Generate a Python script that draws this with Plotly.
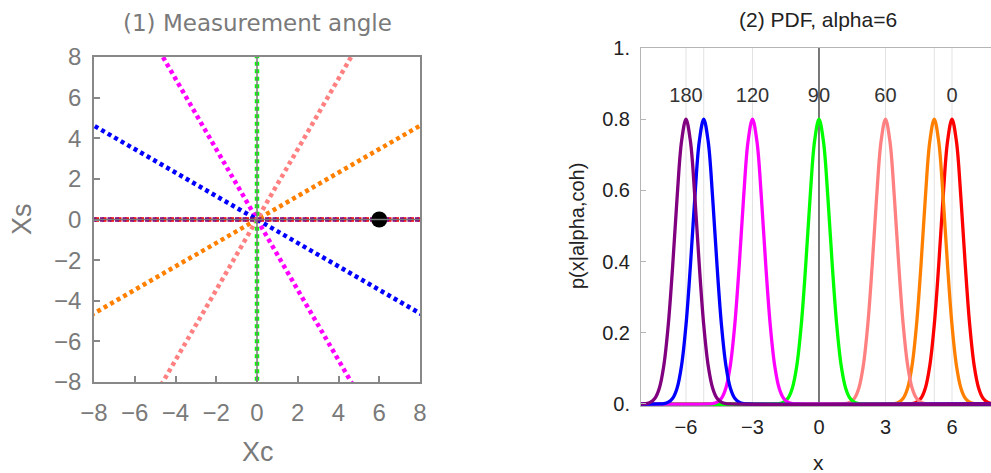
import numpy as np
import plotly.graph_objects as go

# ---------------- data ----------------
angles_deg = [0, 30, 60, 90, 120, 150, 180]
line_colors = ["#FF0000", "#FF8000", "#FF8080", "#00FF00", "#FF00FF", "#0000FF", "#800080"]
peak_centers = [6.0, 5.2, 3.0, 0.0, -3.0, -5.2, -6.0]      # (2)
label_angles = ["180", "120", "90", "60", "0"]
label_x = [-6.0, -3.0, 0.0, 3.0, 6.0]
label_y = 0.862
point_xc = [6.0]
point_xs = [0.0]
# peak profile (offset from centre, height)
profile_dx = [-2.0, -1.8, -1.6, -1.4, -1.2, -1.0, -0.8, -0.6, -0.4, -0.2, 0.0,
              0.2, 0.4, 0.6, 0.8, 1.0, 1.2, 1.4, 1.6, 1.8, 2.0]
profile_p = [0.0, 0.001, 0.005, 0.016, 0.045, 0.108, 0.222, 0.389, 0.581, 0.738, 0.8,
             0.738, 0.581, 0.389, 0.222, 0.108, 0.045, 0.016, 0.005, 0.001, 0.0]
left_ticks = [-8, -6, -4, -2, 0, 2, 4, 6, 8]
right_xticks = [-6, -3, 0, 3, 6]
right_yticks = [0, 0.2, 0.4, 0.6, 0.8, 1.0]
right_yticktext = ["0.", "0.2", "0.4", "0.6", "0.8", "1."]

W, H = 991, 473
GRAY = "#7a7a7a"
LF = "Liberation Sans"

fig = go.Figure()

# ---------------- panel 1 ----------------
R = 12.0
for ang, col in zip(angles_deg, line_colors):
    t = np.deg2rad(ang)
    r = np.array([-R, R])
    fig.add_trace(go.Scatter(x=r * np.cos(t), y=r * np.sin(t), mode="lines",
                             line=dict(color=col, width=4.5, dash="4px,3.5px"),
                             xaxis="x", yaxis="y", showlegend=False, hoverinfo="skip"))
fig.add_trace(go.Scatter(x=point_xc, y=point_xs, mode="markers",
                         marker=dict(color="black", size=16),
                         xaxis="x", yaxis="y", showlegend=False, cliponaxis=False))

# ---------------- panel 2 ----------------
xmin2, xmax2 = -8.03, 7.76
gx, gy = [], []
for c in peak_centers:
    gx += [c, c, None]
    gy += [0, 1, None]
fig.add_trace(go.Scatter(x=gx, y=gy, mode="lines", line=dict(color="#e2e2e2", width=1),
                         xaxis="x2", yaxis="y2", showlegend=False, hoverinfo="skip"))
fig.add_trace(go.Scatter(x=label_x, y=[label_y] * len(label_x), mode="text", text=label_angles,
                         textfont=dict(family=LF, size=20, color="#333"),
                         xaxis="x2", yaxis="y2", showlegend=False, hoverinfo="skip"))
fig.add_trace(go.Scatter(x=[0, 0], y=[0, 1], mode="lines", line=dict(color="black", width=1),
                         xaxis="x2", yaxis="y2", showlegend=False, hoverinfo="skip"))
for c, col in zip(peak_centers, line_colors):
    xs = [xmin2 - 0.5] + [c + d for d in profile_dx] + [xmax2 + 0.5]
    ys = [0.0] + profile_p + [0.0]
    fig.add_trace(go.Scatter(x=xs, y=ys, mode="lines", line=dict(color=col, width=3.3, shape="spline"),
                             xaxis="x2", yaxis="y2", showlegend=False, hoverinfo="skip"))

shapes = [
    dict(type="line", xref="x", yref="y domain", x0=0, x1=0, y0=0, y1=1,
         line=dict(color=GRAY, width=1.5), layer="above"),
    dict(type="line", xref="x domain", yref="y", x0=0, x1=1, y0=0, y1=0,
         line=dict(color=GRAY, width=1.5), layer="above"),
]

def px(xp):
    return xp / W

def py(yp):
    return (H - yp) / H

def ann(text, x, y, size, color, family=LF, angle=0):
    return dict(text=text, x=px(x), y=py(y), xref="paper", yref="paper",
                xanchor="center", yanchor="middle", textangle=angle,
                showarrow=False, font=dict(family=family, size=size, color=color))

annotations = [
    ann("(1) Measurement angle", 257, 23, 23, GRAY, family="DejaVu Sans"),
    ann("Xc", 258, 452, 27, GRAY),
    ann("Xs", 22, 219, 27, GRAY, angle=-90),
    ann("(2) PDF, alpha=6", 818, 19, 21, "#222"),
    ann("x", 818, 462, 21, "#222"),
    ann("p(x|alpha,coh)", 577, 226, 20, "#222", angle=-90),
]

fig.update_layout(
    width=W, height=H, margin=dict(l=0, r=0, t=0, b=0, autoexpand=False),
    paper_bgcolor="white", plot_bgcolor="white",
    showlegend=False, shapes=shapes, annotations=annotations,
    xaxis=dict(domain=[px(94), px(420)], range=[-8, 8], tickvals=left_ticks,
               showline=True, mirror=True, linecolor="#888", linewidth=1.5,
               ticks="inside", ticklen=6, tickcolor="#888", tickwidth=1.5,
               tickfont=dict(family=LF, size=24, color=GRAY), ticklabelstandoff=8,
               showgrid=False, zeroline=False, anchor="y", automargin=False),
    yaxis=dict(domain=[py(382), py(57)], range=[-8, 8], tickvals=left_ticks,
               showline=True, mirror=True, linecolor="#888", linewidth=1.5,
               ticks="inside", ticklen=6, tickcolor="#888", tickwidth=1.5,
               tickfont=dict(family=LF, size=24, color=GRAY), ticklabelstandoff=6,
               showgrid=False, zeroline=False, anchor="x", automargin=False),
    xaxis2=dict(domain=[px(641), 1.0], range=[xmin2, xmax2], tickvals=right_xticks,
                showline=True, mirror=True, linecolor="#b5b5b5", linewidth=1,
                ticks="", tickfont=dict(family=LF, size=20, color="#222"), ticklabelstandoff=3,
                showgrid=False, zeroline=False, anchor="y2", automargin=False),
    yaxis2=dict(domain=[py(406.1), py(48)], range=[-0.006, 1.0], tickvals=right_yticks,
                ticktext=right_yticktext,
                showline=True, linecolor="#b5b5b5", linewidth=1,
                ticks="inside", ticklen=5, tickcolor="#b5b5b5",
                tickfont=dict(family=LF, size=20, color="#222"), ticklabelstandoff=6,
                showgrid=False, zeroline=False, anchor="x2", automargin=False),
)

fig.write_html("out.html")
